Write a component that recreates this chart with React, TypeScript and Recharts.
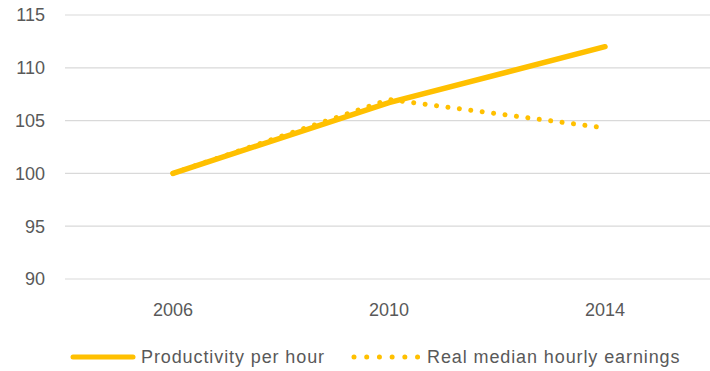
import { LineChart, Line, XAxis, YAxis, CartesianGrid, Legend } from 'recharts'

const years = ['2006', '2010', '2014']
const productivity = [100, 106.7, 112]
const earnings = [100, 107, 104.3]
const yTicks = [90, 95, 100, 105, 110, 115]

const GOLD = '#FFC000'
const TEXT = '#595959'
const FONT = '"Liberation Sans", Arial, sans-serif'

const data = years.map((year, i) => ({
  year,
  productivity: productivity[i],
  earnings: earnings[i],
}))

function LegendRow() {
  const item = { display: 'flex', alignItems: 'center' } as const
  return (
    <div
      style={{
        display: 'flex',
        alignItems: 'center',
        height: 24,
        paddingLeft: 70,
        fontFamily: FONT,
        fontSize: 18,
        letterSpacing: 0.9,
        color: TEXT,
      }}
    >
      <div style={item}>
        <svg width={66} height={10} style={{ marginRight: 5 }}>
          <line x1={3} y1={5} x2={63} y2={5} stroke={GOLD} strokeWidth={5} strokeLinecap="round" />
        </svg>
        <span>Productivity per hour</span>
      </div>
      <div style={{ ...item, marginLeft: 26 }}>
        <svg width={70} height={10} style={{ marginRight: 6 }}>
          <line
            x1={3}
            y1={5}
            x2={67}
            y2={5}
            stroke={GOLD}
            strokeWidth={5}
            strokeLinecap="round"
            strokeDasharray="0.01 12.7"
          />
        </svg>
        <span>Real median hourly earnings</span>
      </div>
    </div>
  )
}

export default function App() {
  return (
    <div style={{ position: 'absolute', left: 0, top: 0, background: '#fff' }}>
      <LineChart
        width={710}
        height={371}
        data={data}
        margin={{ top: 15, right: 0, left: 0, bottom: 2 }}
      >
        <CartesianGrid vertical={false} stroke="#d9d9d9" strokeWidth={1.2} />
        <XAxis
          dataKey="year"
          axisLine={false}
          tickLine={false}
          tickSize={0}
          tickMargin={24}
          height={66}
          padding={{ left: 108, right: 105 }}
          tick={{ fill: TEXT, fontSize: 18, fontFamily: FONT }}
        />
        <YAxis
          domain={[90, 115]}
          ticks={yTicks}
          axisLine={false}
          tickLine={false}
          tickSize={0}
          tickMargin={20}
          width={65}
          tick={{ fill: TEXT, fontSize: 18, fontFamily: FONT }}
        />
        <Legend verticalAlign="bottom" content={() => <LegendRow />} />
        <Line
          type="linear"
          dataKey="productivity"
          name="Productivity per hour"
          stroke={GOLD}
          strokeWidth={5.5}
          strokeLinecap="round"
          dot={false}
          activeDot={false}
          isAnimationActive={false}
        />
        <Line
          type="linear"
          dataKey="earnings"
          name="Real median hourly earnings"
          stroke={GOLD}
          strokeWidth={5}
          strokeLinecap="round"
          strokeDasharray="0.01 11.5"
          dot={false}
          activeDot={false}
          isAnimationActive={false}
        />
      </LineChart>
    </div>
  )
}
